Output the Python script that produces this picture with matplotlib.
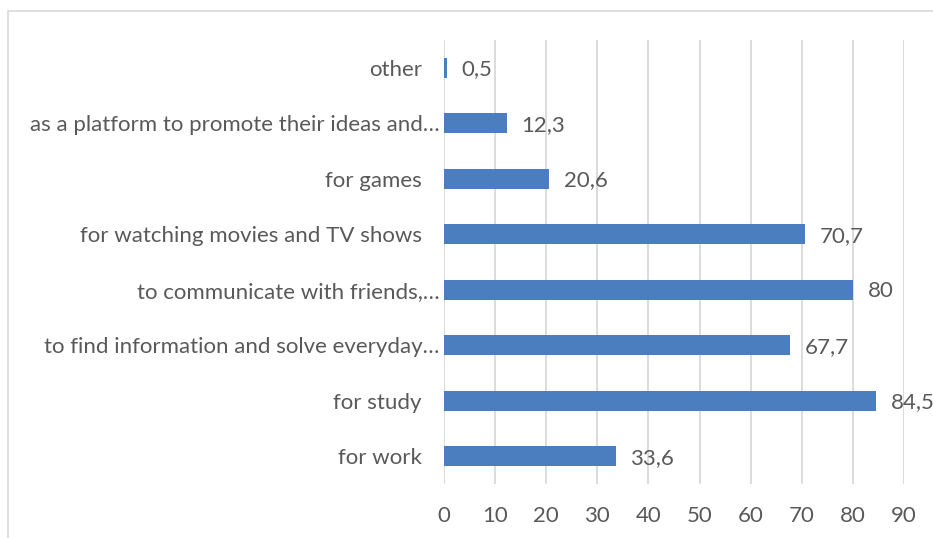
import matplotlib
matplotlib.use("Agg")
import matplotlib.pyplot as plt
from matplotlib.patches import Rectangle
import matplotlib.transforms as mtransforms

categories = [
    "for work",
    "for study",
    "to find information and solve everyday…",
    "to communicate with friends,…",
    "for watching movies and TV shows",
    "for games",
    "as a platform to promote their ideas and…",
    "other",
]
values = [33.6, 84.5, 67.7, 80, 70.7, 20.6, 12.3, 0.5]
value_labels = ["33,6", "84,5", "67,7", "80", "70,7", "20,6", "12,3", "0,5"]
xticks = [0, 10, 20, 30, 40, 50, 60, 70, 80, 90]

plt.rcParams['font.family'] = ['Lato', 'DejaVu Sans']
text_color = "#595959"
bar_color = "#4A7EBF"
grid_color = "#D9D9D9"
fs = 16

fig = plt.figure(figsize=(9.33, 5.38), dpi=100)
W, H = 933, 538
ax = fig.add_axes([444 / W, 1 - 484 / H, (904 - 444) / W, (484 - 40) / H])

y = list(range(len(categories)))
ax.barh(y, values, height=0.36, color=bar_color, zorder=3)
for yi, v, lab in zip(y, values, value_labels):
    ax.annotate(lab, (v, yi), xytext=(10.5, -1), textcoords="offset points",
                va="center", ha="left", fontsize=fs, color=text_color)

ax.set_xlim(0, 90)
ax.set_ylim(-0.5, len(categories) - 0.5)
ax.set_xticks(xticks)
ax.set_xticklabels([str(t) for t in xticks])
ax.set_yticks(y)
ax.set_yticklabels(categories)
ax.tick_params(axis="both", length=0, labelsize=fs, colors=text_color)
ax.tick_params(axis="x", pad=16)
ax.tick_params(axis="y", pad=16)
# truncated labels sit closer to the axis
for lbl in ax.get_yticklabels():
    if lbl.get_text().endswith("…"):
        lbl.set_transform(lbl.get_transform() +
                          mtransforms.ScaledTranslation(18 / 100, 0, fig.dpi_scale_trans))
ax.xaxis.grid(True, color=grid_color, linewidth=1.3, zorder=0)
for s in ax.spines.values():
    s.set_visible(False)
ax.axvline(0, color=grid_color, linewidth=1.3, zorder=1)

# chart frame
fig.patches.append(Rectangle((8 / W, -0.1), 1.2, 1.1 - 11 / H, transform=fig.transFigure,
                             fill=False, edgecolor="#D9D9D9", linewidth=1.2))

fig.savefig("out.png", dpi=100)
